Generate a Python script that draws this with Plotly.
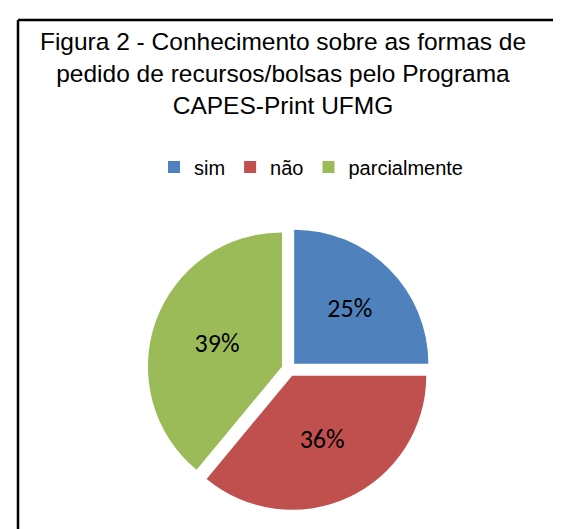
import plotly.graph_objects as go

categories = ["sim", "não", "parcialmente"]
values = [25, 36, 39]
colors = ["#4F81BD", "#C0504D", "#9BBB59"]
title_text = "Figura 2 - Conhecimento sobre as formas de<br>pedido de recursos/bolsas pelo Programa<br>CAPES-Print UFMG"

W, H = 561, 529
sans = "Liberation Sans, Arial, sans-serif"

fig = go.Figure(go.Pie(
    labels=categories,
    values=values,
    sort=False,
    direction="clockwise",
    rotation=0,
    pull=[0.055] * len(values),
    marker=dict(colors=colors, line=dict(width=0)),
    textinfo="percent",
    texttemplate="%{percent:.0%}",
    textposition="inside",
    insidetextorientation="horizontal",
    textfont=dict(family="Carlito, Lato, sans-serif", size=26, color="black"),
    domain=dict(x=[139.5 / W, 422.5 / W], y=[1 - 502.5 / H, 1 - 219.5 / H]),
    hoverinfo="label+percent",
))

fig.update_layout(
    width=W, height=H,
    margin=dict(l=0, r=0, t=0, b=0),
    paper_bgcolor="white",
    title=dict(text=title_text, x=275 / W, xanchor="center", y=1 - 42 / H, yanchor="top",
               font=dict(family=sans, size=24.5, color="black")),
    showlegend=True,
    legend=dict(orientation="h", x=303 / W, xanchor="center", y=1 - 159 / H, yanchor="middle",
                font=dict(family=sans, size=20, color="black"),
                traceorder="normal"),
    shapes=[
        dict(type="line", xref="paper", yref="paper", x0=10 / W, x1=1.05, y0=1 - 12 / H, y1=1 - 12 / H,
             line=dict(color="black", width=2.5)),
        dict(type="line", xref="paper", yref="paper", x0=10 / W, x1=10 / W, y0=1 - 12 / H, y1=-0.05,
             line=dict(color="black", width=2.5)),
    ],
)

fig.write_html("out.html")
